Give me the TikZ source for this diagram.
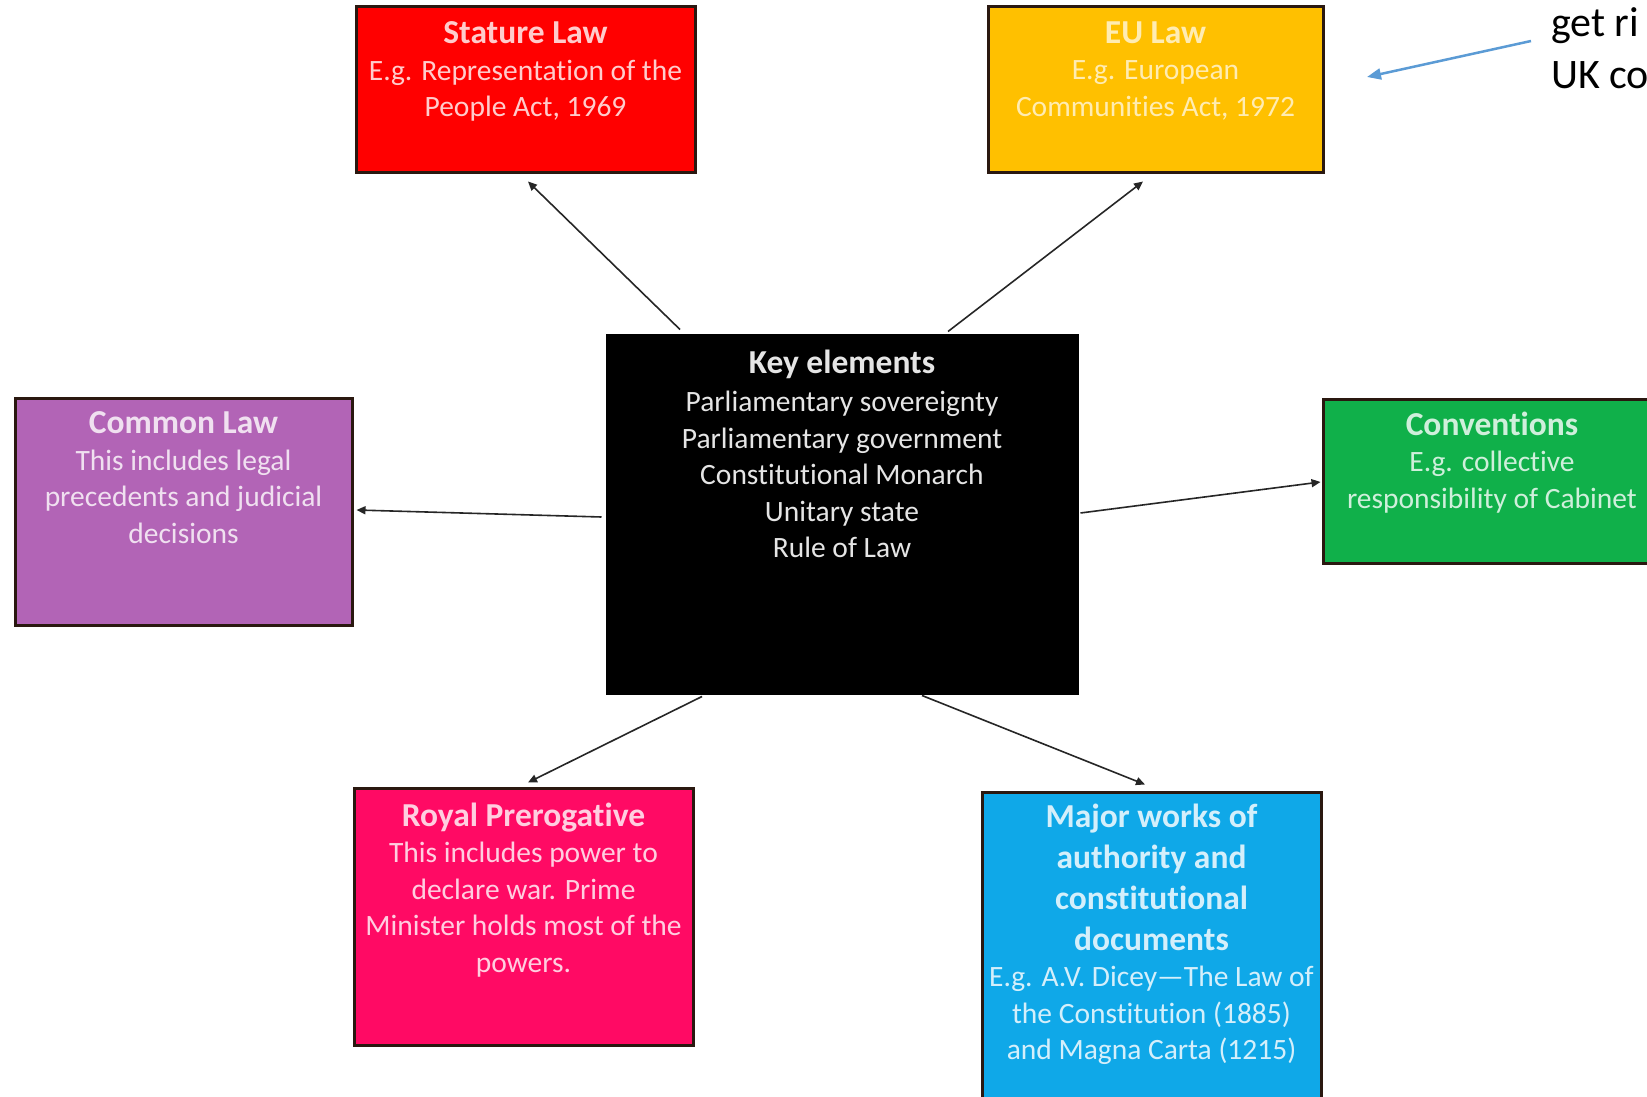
\documentclass[tikz,border=0pt]{standalone}
\usepackage{fontspec}
\setmainfont[Ligatures=NoCommon]{Carlito}
\usetikzlibrary{arrows.meta}
\definecolor{cRed}{HTML}{FF0000}
\definecolor{cYel}{HTML}{FFC000}
\definecolor{cPur}{HTML}{B264B6}
\definecolor{cGrn}{HTML}{10B04A}
\definecolor{cPnk}{HTML}{FF0A64}
\definecolor{cBlu}{HTML}{0FA8E8}
\definecolor{cBord}{HTML}{2A1810}
\definecolor{cArrB}{HTML}{5B9BD5}
\newcommand\ttlfont{\fontsize{33.5}{41}\selectfont\bfseries}
\newcommand\bdyfont{\fontsize{29.5}{36.5}\selectfont}
\begin{document}
\begin{tikzpicture}[x=1pt,y=-1pt,
  box/.style={draw=cBord, line width=3pt, rectangle, inner sep=0pt},
  txt/.style={anchor=north, inner sep=0pt, align=center, font=\bdyfont},
  arr/.style={draw=black!85, line width=1.6pt, -{Triangle[length=9pt,width=8pt]}},
  barr/.style={draw=cArrB, line width=2.5pt, -{Triangle[length=14pt,width=11pt]}},
]
\useasboundingbox (0,0) rectangle (1647,1097);
\fill[white] (0,0) rectangle (1647,1097);

% boxes
\node[box, fill=cRed, minimum width=339pt, minimum height=166pt] (stat) at (525.5,90) {};
\node[box, fill=cYel, minimum width=335pt, minimum height=166pt] (eu) at (1155.5,90) {};
\node[box, fill=black, draw=black, minimum width=470pt, minimum height=358pt] (key) at (842,514) {};
\node[box, fill=cPur, minimum width=337pt, minimum height=227pt] (com) at (183.5,511.5) {};
\node[box, fill=cGrn, minimum width=338pt, minimum height=164pt] (conv) at (1492,481) {};
\node[box, fill=cPnk, minimum width=339pt, minimum height=257pt] (roy) at (523.5,916.5) {};
\node[box, fill=cBlu, minimum width=339pt, minimum height=323pt] (maj) at (1151.5,953.5) {};

% texts
\node[txt, text=white!80!cRed] (statT) at ([yshift=-16pt]stat.north)
  {{\ttlfont Stature Law}\\ E.g. Representation of the\\ People Act, 1969};
\node[txt, text=white!70!cYel] (euT) at ([yshift=-16pt]eu.north)
  {{\ttlfont EU Law}\\ E.g. European\\ Communities Act, 1972};
\node[txt, text=white!90!black] (keyT) at ([yshift=-16pt]key.north)
  {{\ttlfont Key elements}\\[2pt] Parliamentary sovereignty\\ Parliamentary government\\ Constitutional Monarch\\ Unitary state\\ Rule of Law};
\node[txt, text=white!80!cPur] (comT) at ([yshift=-15pt]com.north)
  {{\ttlfont Common Law}\\ This includes legal\\ precedents and judicial\\ decisions};
\node[txt, text=white!80!cGrn] (convT) at ([yshift=-14pt]conv.north)
  {{\ttlfont Conventions}\\ E.g. collective\\ responsibility of Cabinet};
\node[txt, text=white!80!cPnk] (royT) at ([yshift=-16pt]roy.north)
  {{\ttlfont Royal Prerogative}\\ This includes power to\\ declare war. Prime\\ Minister holds most of the\\ powers.};
\node[txt, text=white!82!cBlu] (majT) at ([yshift=-13pt]maj.north)
  {{\ttlfont Major works of}\\[4.5pt] {\ttlfont authority and}\\[4.5pt] {\ttlfont constitutional}\\[4.5pt] {\ttlfont documents}\\ E.g. A.V. Dicey\textemdash The Law of\\ the Constitution (1885)\\ and Magna Carta (1215)};

% connectors
\draw[arr] ([xshift=-162pt,yshift=4pt]key.north) -- ([xshift=2.5pt,yshift=-7pt]stat.south);
\draw[arr] ([xshift=106pt,yshift=2pt]key.north) -- ([xshift=-12.5pt,yshift=-7pt]eu.south);
\draw[arr] ([xshift=-4pt,yshift=-3pt]key.west) -- ([xshift=3pt,yshift=1.5pt]com.east);
\draw[arr] ([xshift=2pt,yshift=1pt]key.east) -- ([xshift=-1pt,yshift=-1pt]conv.west);
\draw[arr] ([xshift=-140pt,yshift=-2pt]key.south) -- ([xshift=4.5pt,yshift=4pt]roy.north);
\draw[arr] ([xshift=80pt,yshift=-1pt]key.south) -- ([xshift=-6.5pt,yshift=6pt]maj.north);

% note at top right
\node[anchor=base west, inner sep=0pt, font=\fontsize{42}{52}\selectfont] (note1) at (1551,37) {get ri};
\node[anchor=base west, inner sep=0pt, font=\fontsize{42}{52}\selectfont] (note2) at (1551,89) {UK co};
\coordinate (bstart) at (1531,41);
\coordinate (bend) at (1367,77);
\draw[barr] (bstart) -- (bend);
\end{tikzpicture}
\end{document}
